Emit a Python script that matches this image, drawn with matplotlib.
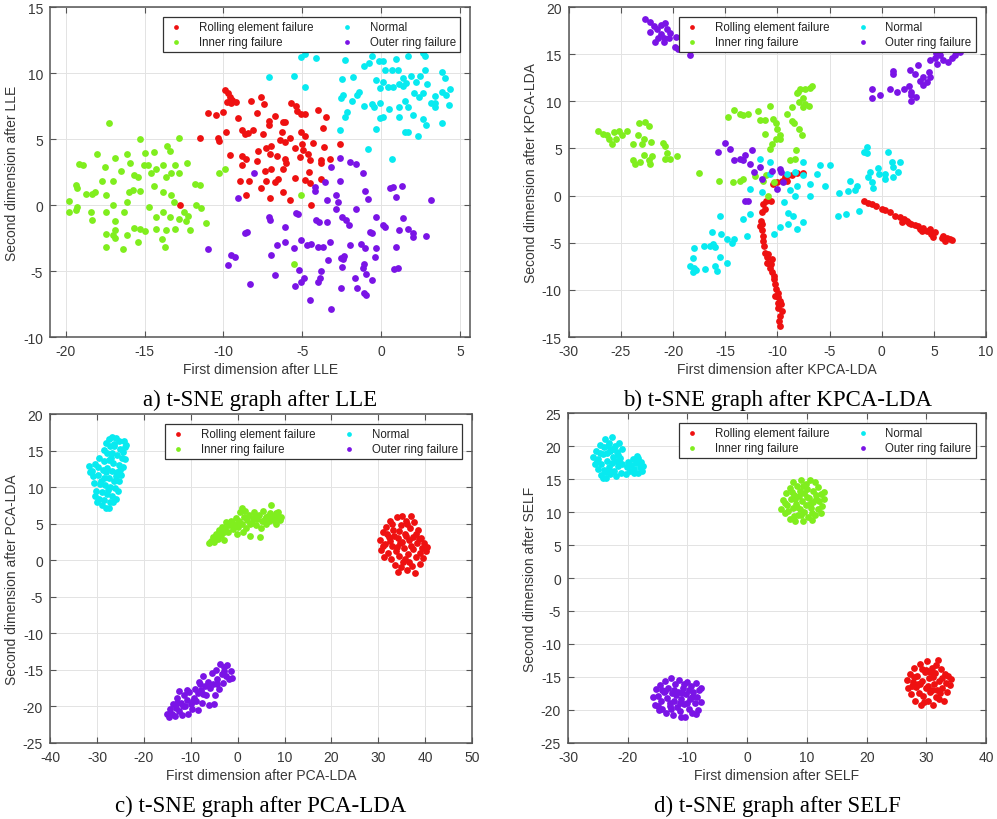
import numpy as np
import matplotlib
matplotlib.use('Agg')
from matplotlib import pyplot as plt

# ---- data ----
class_names = ['Rolling element failure', 'Inner ring failure', 'Normal', 'Outer ring failure']
class_colors = ['#ee1111', '#80ee1e', '#08eaf0', '#7a14e6']

# a) LLE
lle_rolling = [(-9.9, 8.75), (-9.7, 8.5), (-9.6, 8.2), (-9.8, 7.8), (-9.5, 7.75), (-9.2, 7.8), (-8.25, 7.9),
               (-7.6, 8.15), (-7.4, 7.65), (-11.0, 7.0), (-10.5, 6.8), (-10.05, 7.05), (-9.1, 6.6), (-7.9, 7.0),
               (-6.7, 6.75), (-5.7, 7.7), (-5.4, 7.5), (-5.35, 7.15), (-5.05, 6.9), (-4.8, 6.9), (-4.0, 7.2),
               (-3.5, 6.65), (-11.5, 5.1), (-10.35, 5.1), (-10.3, 4.85), (-9.85, 5.5), (-8.85, 5.65), (-8.65, 5.4),
               (-8.45, 5.45), (-8.1, 5.65), (-7.5, 5.4), (-7.1, 6.35), (-7.1, 6.1), (-6.25, 6.3), (-6.1, 6.3),
               (-6.3, 5.5), (-6.1, 4.8), (-5.8, 5.05), (-5.05, 5.55), (-4.85, 5.2), (-4.3, 4.7), (-3.7, 5.8),
               (-9.6, 3.8), (-8.8, 3.7), (-8.55, 3.45), (-7.8, 4.1), (-7.3, 4.3), (-7.05, 3.85), (-6.6, 3.75),
               (-6.95, 4.5), (-5.45, 4.3), (-4.95, 4.2), (-4.65, 3.85), (-4.5, 3.4), (-3.8, 3.4), (-3.6, 4.4),
               (-3.25, 3.5), (-2.6, 4.6), (-3.8, 3.15), (-8.8, 3.0), (-7.9, 3.3), (-7.35, 2.6), (-6.95, 2.75),
               (-6.25, 2.7), (-6.1, 3.45), (-6.0, 3.15), (-5.15, 3.65), (-4.55, 2.5), (-8.95, 1.85), (-8.35, 1.85),
               (-7.3, 1.85), (-6.75, 1.75), (-6.55, 2.0), (-5.45, 2.05), (-4.85, 1.9), (-4.5, 1.7), (-3.8, 2.0),
               (-7.6, 1.3), (-8.55, 0.75), (-7.05, 0.55), (-6.2, 1.0), (-5.8, 0.35), (-4.45, 0.0), (-12.75, 0.0),
               (-9.45, 7.95), (-5.0, 4.6), (-6.4, 4.95)]
lle_inner = [(-17.25, 6.2), (-12.8, 5.1), (-15.3, 5.0), (-18.05, 3.9), (-16.1, 3.9), (-15.0, 3.95), (-14.4, 4.0),
             (-13.6, 4.5), (-13.4, 4.1), (-19.15, 3.1), (-18.9, 3.05), (-17.5, 2.9), (-16.9, 3.6), (-16.5, 2.6),
             (-15.9, 3.2), (-15.05, 3.0), (-14.8, 3.0), (-14.3, 2.75), (-13.85, 3.05), (-13.1, 3.05), (-12.3, 3.2),
             (-12.8, 2.4), (-13.3, 2.45), (-17.7, 1.85), (-17.0, 1.85), (-15.65, 2.25), (-15.45, 2.1), (-13.65, 2.1),
             (-11.8, 1.6), (-11.5, 1.55), (-19.35, 1.5), (-19.3, 1.3), (-18.7, 0.8), (-18.35, 0.85), (-18.15, 0.95),
             (-17.45, 0.75), (-15.75, 1.1), (-15.3, 1.05), (-14.4, 1.45), (-13.85, 1.0), (-13.3, 0.75), (-16.1, 0.2),
             (-13.15, 0.25), (-11.75, 0.0), (-11.4, -0.2), (-19.8, 0.3), (-19.8, -0.55), (-19.3, -0.15),
             (-19.35, -0.35), (-18.4, -0.55), (-18.35, -1.15), (-17.45, -0.55), (-16.3, -0.55), (-14.7, -0.15),
             (-14.3, -0.9), (-13.85, -0.55), (-13.4, -0.9), (-12.5, -0.55), (-12.25, -0.85), (-12.35, -1.2),
             (-12.8, -1.05), (-16.9, -1.2), (-15.65, -1.75), (-15.3, -1.8), (-15.0, -2.0), (-14.25, -1.8),
             (-13.65, -1.9), (-13.05, -1.8), (-12.15, -1.9), (-11.1, -1.4), (-16.85, -1.9), (-17.0, -2.3),
             (-17.45, -2.2), (-16.9, -2.5), (-16.1, -2.3), (-15.45, -2.8), (-13.9, -2.55), (-13.7, -3.2),
             (-17.45, -3.15), (-16.35, -3.35), (-10.25, 2.45), (-9.9, 2.75), (-5.05, 0.75), (-5.5, -4.45),
             (-14.6, 2.4), (-16.0, 1.0), (-17.0, 0.0)]
lle_normal = [(-5.05, 11.25), (-4.85, 11.45), (-4.1, 11.15), (-7.1, 9.7), (-5.55, 9.8), (-4.85, 8.95), (-2.5, 9.55),
              (-2.3, 11.0), (-1.8, 9.7), (-1.05, 10.55), (-0.75, 10.75), (-0.6, 11.3), (-0.1, 10.9), (0.15, 10.9),
              (0.95, 11.1), (1.7, 11.3), (2.65, 11.55), (2.8, 11.3), (0.25, 10.2), (0.7, 10.2), (1.1, 10.2),
              (1.9, 9.75), (2.8, 10.2), (3.85, 10.05), (4.05, 9.6), (2.5, 9.75), (-0.3, 9.45), (0.15, 9.3),
              (1.4, 9.6), (-0.05, 8.9), (0.45, 8.95), (0.75, 8.95), (1.15, 9.15), (1.4, 9.05), (1.6, 9.25),
              (2.25, 9.3), (2.9, 9.15), (4.4, 8.8), (4.15, 8.3), (3.85, 8.55), (3.45, 8.25), (2.65, 8.45),
              (2.1, 8.45), (1.55, 7.9), (2.4, 8.15), (-2.4, 8.35), (-1.5, 8.3), (-1.4, 8.55), (-1.85, 7.9),
              (-1.05, 7.5), (-0.6, 7.65), (-0.45, 7.4), (-0.05, 7.7), (1.15, 7.4), (1.7, 7.4), (3.2, 7.7),
              (3.45, 7.75), (4.3, 7.55), (-2.15, 7.05), (-2.3, 6.65), (-0.05, 6.6), (0.1, 6.65), (1.15, 6.65),
              (2.0, 6.8), (2.65, 6.5), (2.85, 6.1), (3.85, 6.25), (-0.3, 5.75), (-2.6, 5.65), (1.5, 5.5),
              (1.7, 5.5), (2.35, 5.2), (-0.8, 4.25), (0.7, 3.45), (-2.55, 8.1), (0.5, 7.3), (3.4, 7.45)]
lle_outer = [(-8.05, 2.45), (-9.05, 0.55), (-4.2, 1.35), (-4.2, 1.05), (-3.55, 1.75), (-3.2, 2.9), (-2.6, 3.55),
             (-2.0, 3.25), (-1.6, 3.1), (-1.15, 2.45), (-2.6, 1.85), (-2.85, 0.75), (-2.75, 0.25), (-3.4, 0.35),
             (-2.85, -0.3), (-1.0, 1.05), (-0.85, 0.45), (0.55, 1.3), (0.75, 1.35), (1.3, 1.45), (0.95, 0.6),
             (3.2, 0.35), (-1.6, -0.3), (-2.45, -0.9), (-2.25, -1.15), (-2.05, -1.5), (-0.3, -0.9), (0.15, -1.55),
             (0.25, -1.65), (1.4, -1.0), (1.7, -1.8), (1.15, -1.9), (2.05, -2.15), (2.05, -2.45), (2.85, -2.35),
             (-0.7, -2.05), (-0.6, -2.15), (-7.1, -0.9), (-7.05, -1.15), (-6.1, -1.65), (-5.3, -0.7),
             (-4.15, -1.15), (-3.95, -1.25), (-3.45, -1.3), (-11.0, -3.3), (-8.5, -2.05), (-8.65, -2.15),
             (-9.5, -3.75), (-9.25, -3.95), (-9.7, -4.55), (-8.3, -5.95), (-7.0, -3.8), (-6.6, -3.05),
             (-6.1, -2.8), (-5.5, -3.25), (-5.05, -2.65), (-4.7, -3.05), (-4.45, -2.95), (-4.0, -3.2),
             (-3.7, -3.2), (-3.25, -2.8), (-2.0, -3.05), (-1.3, -2.95), (-1.0, -3.25), (-0.3, -3.25), (0.95, -3.2),
             (-6.75, -5.3), (-5.45, -6.15), (-5.2, -4.9), (-5.05, -5.8), (-4.9, -5.55), (-4.5, -7.2), (-4.0, -5.8),
             (-3.85, -5.55), (-3.8, -5.0), (-3.35, -4.2), (-3.2, -7.85), (-2.55, -4.0), (-2.35, -3.9),
             (-2.45, -4.7), (-2.55, -6.3), (-1.65, -5.55), (-1.55, -6.3), (-1.15, -4.8), (-1.05, -4.45),
             (-0.95, -5.2), (-1.05, -6.65), (-0.95, -6.85), (-0.6, -5.65), (-0.4, -3.95), (0.85, -4.85),
             (1.05, -4.75), (-5.4, -0.6), (-2.4, -4.1)]

# b) KPCA-LDA
kpca_rolling = [(-1.7, -0.6), (-1.3, -0.8), (-0.9, -0.9), (-0.5, -1.15), (0.0, -1.4), (0.3, -1.5), (0.8, -1.75),
                (1.3, -2.15), (1.75, -2.3), (2.1, -2.5), (1.9, -2.75), (2.4, -2.65), (2.85, -3.0), (3.2, -3.1),
                (3.5, -3.2), (3.65, -3.55), (4.0, -3.4), (4.3, -3.75), (4.6, -3.5), (4.75, -4.1), (5.1, -3.9),
                (4.95, -4.35), (5.9, -4.25), (6.25, -4.45), (6.55, -4.6), (6.1, -4.8), (6.7, -4.7), (5.75, -4.55),
                (3.9, -3.8), (2.6, -2.9), (-11.35, -0.9), (-11.2, -1.4), (-11.5, -1.75), (-11.6, -2.65),
                (-11.65, -3.2), (-11.5, -3.7), (-11.4, -4.25), (-11.35, -4.8), (-11.2, -6.05), (-11.0, -6.55),
                (-10.85, -7.1), (-10.7, -7.65), (-10.5, -8.15), (-10.35, -8.9), (-10.2, -9.4), (-10.1, -9.95),
                (-9.95, -10.3), (-9.9, -10.8), (-9.75, -11.2), (-9.65, -11.55), (-9.9, -11.9), (-9.6, -12.25),
                (-9.75, -12.8), (-9.8, -13.3), (-9.75, -13.85), (-9.95, -11.35), (-10.2, -10.65), (-10.85, -6.2),
                (-10.95, -7.1), (-10.5, -6.75), (-11.1, -0.6), (-10.65, -0.55), (-11.3, -5.3), (-10.6, -7.3),
                (-10.3, -8.5), (-11.5, -3.0), (-10.4, 1.25), (-10.05, 1.4), (-9.55, 1.6), (-9.25, 1.95),
                (-8.95, 2.15), (-8.6, 2.2), (-8.15, 2.4), (-7.55, 2.4), (-9.1, 1.6)]
kpca_inner = [(-27.2, 6.9), (-26.7, 6.55), (-26.3, 6.4), (-26.1, 6.05), (-25.85, 5.5), (-25.5, 6.05), (-25.2, 6.9),
              (-24.9, 6.4), (-24.4, 6.85), (-25.7, 6.75), (-23.85, 5.5), (-23.4, 6.4), (-23.0, 5.5), (-22.8, 6.05),
              (-23.25, 7.65), (-22.65, 7.8), (-22.35, 7.4), (-23.85, 3.75), (-23.6, 3.4), (-23.2, 3.55),
              (-22.8, 4.35), (-22.35, 3.75), (-22.0, 4.25), (-22.1, 5.7), (-21.0, 5.6), (-20.75, 5.3),
              (-20.6, 4.55), (-20.75, 3.9), (-20.25, 3.9), (-19.6, 4.2), (-22.2, 3.4), (-17.55, 2.4),
              (-15.55, 1.5), (-14.25, 1.4), (-13.55, 1.6), (-13.25, 1.8), (-14.7, 8.35), (-14.2, 9.05),
              (-13.55, 8.7), (-13.25, 8.5), (-12.85, 8.7), (-11.9, 8.95), (-11.65, 8.0), (-11.2, 8.0), (-10.7, 9.5),
              (-10.4, 8.1), (-10.1, 7.65), (-10.0, 7.1), (-9.7, 6.4), (-10.1, 6.05), (-11.2, 6.55), (-10.55, 5.5),
              (-10.7, 4.95), (-11.1, 2.15), (-11.35, 1.5), (-10.9, 0.0), (-9.75, 6.05), (-8.6, 9.4), (-9.1, 8.7),
              (-8.6, 7.9), (-8.45, 7.65), (-8.3, 3.9), (-8.75, 3.75), (-8.2, 4.8), (-7.9, 7.1), (-7.6, 6.4),
              (-7.55, 10.3), (-7.95, 9.95), (-7.35, 9.75), (-7.5, 9.4), (-7.0, 9.5), (-8.15, 10.9), (-7.8, 11.35),
              (-7.35, 11.35), (-6.85, 11.45), (-6.7, 11.65), (-8.0, 11.0), (-12.1, 2.1), (-10.3, 1.4)]
kpca_normal = [(-1.45, 4.55), (-1.4, 5.15), (-1.7, 4.6), (0.65, 4.6), (0.95, 3.55), (1.1, 3.0), (1.75, 3.55),
               (1.6, 2.5), (1.1, 1.95), (0.3, 1.8), (0.3, 2.3), (-0.3, 2.3), (-1.1, 2.5), (-1.3, 1.95), (-0.9, 1.4),
               (-0.8, 0.8), (-2.55, 0.55), (-3.2, 0.45), (-4.05, 0.3), (-3.05, 1.6), (-4.95, 3.2), (-5.9, 3.2),
               (-6.2, 2.3), (-6.85, 1.25), (-6.85, 0.0), (-5.4, 1.0), (-7.5, 2.15), (-7.5, 3.55), (-8.3, 2.5),
               (-9.1, 2.3), (-8.15, 1.05), (-8.75, 0.55), (-8.3, 0.0), (-9.4, -0.7), (-8.95, -1.8), (-8.5, -2.15),
               (-8.15, -3.55), (-7.5, -2.85), (-8.95, -3.0), (-9.75, -3.35), (-10.35, -4.1), (-10.7, 3.55),
               (-11.65, 3.85), (-11.5, 0.35), (-12.6, 0.7), (-12.6, -1.95), (-13.25, -2.5), (-12.95, -4.25),
               (-14.15, -4.6), (-14.35, -5.0), (-14.85, -4.6), (-15.5, -2.15), (-15.4, -4.1), (-16.3, -3.9),
               (-16.2, -5.15), (-16.45, -5.3), (-15.95, -5.5), (-15.5, -6.55), (-14.85, -7.1), (-15.95, -7.45),
               (-15.8, -8.0), (-16.9, -7.8), (-17.05, -5.3), (-18.0, -5.6), (-18.1, -6.65), (-18.35, -7.45),
               (-18.0, -7.65), (-18.1, -8.15), (-17.8, -7.9), (-4.2, -2.2), (-3.4, -1.9), (-2.2, -1.6),
               (-2.35, 1.0), (-0.4, 2.9), (-10.7, 2.3)]
kpca_outer = [(-22.7, 18.75), (-22.2, 18.45), (-21.85, 18.0), (-22.25, 17.4), (-21.55, 17.7), (-21.15, 18.1),
              (-20.75, 18.3), (-20.6, 17.7), (-21.2, 17.1), (-21.45, 16.7), (-20.9, 16.75), (-20.4, 16.7),
              (-20.25, 17.2), (-19.7, 16.85), (-19.8, 15.8), (-19.5, 15.55), (-18.4, 14.9), (-20.9, 16.3),
              (-21.7, 16.3), (-0.95, 11.35), (-0.95, 10.35), (-0.15, 10.65), (0.75, 11.35), (1.05, 13.2),
              (1.05, 12.85), (1.45, 11.0), (2.15, 11.35), (2.65, 11.65), (2.8, 11.0), (2.85, 10.65), (2.85, 10.0),
              (3.3, 10.45), (2.75, 13.3), (3.2, 12.85), (3.45, 13.9), (3.7, 12.15), (4.0, 12.6), (4.5, 13.15),
              (4.65, 12.6), (4.35, 12.05), (4.6, 14.4), (5.15, 14.55), (5.6, 14.9), (5.3, 14.0), (5.9, 14.4),
              (6.4, 14.2), (6.7, 14.6), (7.0, 14.9), (7.5, 15.2), (5.25, 15.1), (4.0, 11.7), (-15.65, 4.65),
              (-15.0, 5.6), (-14.5, 4.95), (-14.15, 3.8), (-13.6, 3.9), (-13.3, 3.8), (-13.1, 4.35), (-12.45, 4.8),
              (-12.6, 3.35), (-12.2, 2.5), (-11.65, 3.0), (-10.55, 2.65), (-9.75, 2.85), (-9.65, 2.55),
              (-10.0, 0.65), (-13.1, -0.55), (-12.8, -0.55), (-11.5, 1.8), (-9.5, 1.45)]

# c) PCA-LDA
pca_rolling = [(30.4, 2.8), (30.6, 1.4), (30.9, 3.9), (31.2, 0.5), (31.4, 2.2), (31.7, 4.6), (32.0, 1.0),
               (32.2, 3.2), (32.5, 5.4), (32.7, 0.1), (33.0, 2.0), (33.2, 4.1), (33.5, -0.6), (33.7, 1.3),
               (33.9, 5.9), (34.1, 3.0), (34.3, -1.6), (34.5, 0.6), (34.7, 2.4), (34.9, 4.8), (35.1, 6.0),
               (35.3, -0.3), (35.5, 1.7), (35.7, 3.6), (35.9, 5.3), (36.1, -1.3), (36.3, 0.9), (36.5, 2.8),
               (36.7, 4.4), (36.9, 6.0), (37.1, -0.8), (37.3, 1.5), (37.5, 3.2), (37.7, 5.2), (37.9, -1.7),
               (38.1, 0.4), (38.3, 2.3), (38.5, 4.1), (38.8, 1.0), (39.0, -0.5), (39.2, 3.0), (39.4, 1.7),
               (39.6, 0.3), (39.8, 2.4), (40.2, 1.2), (40.4, 1.8), (35.0, 2.5), (36.0, 3.3), (34.0, 1.8),
               (37.0, 2.0), (35.6, 0.2), (33.3, 3.3), (31.0, 2.0), (32.4, 2.6), (36.2, 4.9), (38.6, 2.9),
               (32.9, 4.9), (34.4, 4.0), (36.6, -0.2), (38.0, 3.6), (34.8, -0.9), (31.8, 3.6)]
pca_inner = [(-6.0, 2.3), (-5.6, 2.6), (-5.2, 3.2), (-5.0, 2.5), (-4.6, 3.6), (-4.2, 2.9), (-4.0, 4.2), (-3.6, 3.4),
             (-3.3, 4.6), (-3.0, 3.8), (-2.6, 4.4), (-2.4, 5.2), (-2.0, 3.9), (-1.8, 4.8), (-1.4, 5.4), (-1.0, 4.3),
             (-0.8, 5.0), (-0.4, 5.8), (0.0, 4.6), (0.3, 5.4), (0.6, 6.6), (0.9, 7.2), (1.0, 4.9), (1.3, 5.9),
             (1.6, 6.8), (1.8, 4.4), (2.1, 5.5), (2.4, 6.2), (2.7, 3.3), (3.0, 5.1), (3.3, 5.8), (3.6, 6.6),
             (3.9, 4.8), (4.2, 5.6), (4.5, 6.2), (4.8, 3.2), (4.9, 4.4), (5.2, 5.3), (5.5, 6.7), (5.8, 5.7),
             (6.1, 4.9), (6.4, 6.0), (6.7, 5.3), (7.0, 6.5), (7.2, 7.5), (7.5, 5.5), (7.8, 6.1), (8.1, 4.9),
             (8.4, 5.8), (8.7, 6.6), (9.0, 5.5), (9.3, 5.9), (-2.9, 2.8), (-0.2, 3.6), (1.2, 3.8), (6.0, 5.9),
             (-1.2, 4.9), (0.5, 5.1), (2.6, 5.0), (4.0, 6.0), (6.8, 6.0), (8.2, 6.4)]
pca_normal = [(-27.5, 16.6), (-26.8, 16.8), (-26.0, 16.7), (-25.4, 16.3), (-24.3, 16.3), (-24.0, 15.5),
              (-28.0, 16.0), (-27.2, 15.6), (-26.3, 15.6), (-25.0, 15.2), (-24.4, 14.8), (-28.6, 15.1),
              (-27.8, 14.6), (-26.7, 14.7), (-25.8, 14.4), (-24.7, 14.0), (-29.5, 14.0), (-28.6, 13.6),
              (-27.5, 13.7), (-26.5, 13.3), (-25.3, 13.0), (-24.5, 12.8), (-30.5, 13.2), (-29.8, 12.7),
              (-28.8, 12.4), (-27.8, 12.6), (-26.8, 12.2), (-25.8, 12.0), (-24.8, 11.6), (-31.7, 12.9),
              (-31.5, 12.0), (-30.8, 11.5), (-29.8, 11.6), (-28.6, 11.3), (-27.5, 11.2), (-26.4, 10.9),
              (-25.4, 10.8), (-30.6, 10.6), (-29.4, 10.4), (-28.2, 10.3), (-27.3, 10.0), (-26.2, 9.9),
              (-25.6, 9.5), (-30.2, 9.5), (-29.0, 9.3), (-27.9, 9.1), (-26.7, 8.8), (-25.9, 8.4), (-30.5, 8.8),
              (-29.5, 8.4), (-28.5, 8.2), (-27.3, 8.0), (-29.0, 7.5), (-28.1, 7.1), (-27.5, 7.1), (-30.0, 7.9),
              (-26.6, 8.0), (-24.0, 13.8), (-23.8, 15.8), (-31.0, 12.2), (-27.0, 14.0), (-26.0, 11.5),
              (-28.0, 12.0), (-29.2, 10.9), (-27.7, 9.6), (-25.1, 12.3), (-26.4, 15.9)]
pca_outer = [(-15.0, -21.0), (-14.6, -21.5), (-14.4, -20.3), (-14.0, -21.0), (-13.7, -19.6), (-13.4, -21.3),
             (-13.2, -20.2), (-12.9, -18.9), (-12.6, -17.9), (-12.4, -20.6), (-12.1, -19.5), (-11.8, -21.2),
             (-11.5, -18.5), (-11.2, -20.0), (-10.9, -19.1), (-10.6, -21.0), (-10.3, -18.0), (-10.0, -19.7),
             (-9.7, -20.3), (-9.4, -18.8), (-9.1, -17.6), (-8.8, -19.3), (-8.5, -18.2), (-8.2, -16.6),
             (-7.9, -17.8), (-7.6, -19.5), (-7.3, -15.9), (-7.0, -17.2), (-6.7, -18.4), (-6.4, -16.6),
             (-6.1, -19.8), (-5.8, -17.5), (-5.5, -15.4), (-5.2, -16.9), (-4.9, -18.5), (-4.6, -15.0),
             (-4.3, -16.3), (-4.0, -17.6), (-3.7, -14.2), (-3.4, -15.6), (-3.1, -16.8), (-2.8, -14.6),
             (-2.5, -15.9), (-2.2, -14.3), (-1.9, -16.3), (-1.5, -15.2), (-1.2, -16.1), (-5.0, -19.7),
             (-8.5, -20.5), (-10.8, -17.7), (-13.0, -19.5), (-6.0, -17.0), (-11.7, -19.9), (-9.6, -19.2),
             (-7.4, -18.3), (-4.4, -17.0), (-3.0, -15.2), (-8.0, -16.9)]

# d) SELF
self_rolling = [(26.8, -15.5), (27.0, -16.7), (27.3, -14.6), (27.5, -17.6), (27.7, -15.8), (27.9, -13.7),
                (28.1, -18.6), (28.3, -16.5), (28.5, -14.8), (28.7, -17.4), (28.9, -13.0), (29.1, -19.2),
                (29.3, -15.6), (29.5, -17.9), (29.7, -14.2), (29.9, -16.6), (30.1, -12.6), (30.3, -18.6),
                (30.5, -15.2), (30.7, -17.2), (30.9, -13.6), (31.1, -19.3), (31.3, -16.1), (31.5, -14.4),
                (31.7, -18.1), (31.9, -12.4), (32.1, -15.6), (32.3, -17.4), (32.5, -13.8), (32.7, -16.7),
                (32.9, -18.6), (33.1, -14.6), (33.3, -15.9), (33.5, -17.2), (33.7, -14.9), (33.9, -16.2),
                (34.2, -15.3), (29.0, -16.0), (30.2, -16.3), (31.2, -15.0), (30.0, -14.0), (31.8, -17.0),
                (28.6, -16.0), (32.6, -15.2), (28.0, -15.0), (29.6, -18.8), (30.6, -14.2), (31.6, -13.2),
                (32.2, -18.4), (29.2, -13.8), (30.9, -16.9), (27.6, -16.3)]
self_inner = [(5.7, 10.5), (6.0, 11.8), (6.3, 9.8), (6.5, 12.9), (6.7, 11.0), (6.9, 10.2), (7.1, 13.6), (7.2, 9.0),
              (7.4, 11.9), (7.6, 14.5), (7.7, 10.6), (7.9, 12.6), (8.0, 8.6), (8.2, 11.2), (8.3, 14.0), (8.5, 9.6),
              (8.6, 12.4), (8.8, 13.2), (8.9, 10.4), (9.1, 14.8), (9.2, 11.6), (9.3, 8.7), (9.5, 12.9), (9.6, 10.0),
              (9.8, 14.2), (9.9, 11.0), (10.1, 13.5), (10.2, 9.3), (10.4, 12.1), (10.5, 14.9), (10.7, 10.6),
              (10.8, 8.8), (11.0, 13.2), (11.1, 11.5), (11.3, 14.5), (11.4, 9.6), (11.6, 12.6), (11.8, 10.5),
              (11.9, 13.8), (12.1, 11.7), (12.3, 9.8), (12.4, 12.8), (12.6, 10.9), (12.8, 11.9), (12.9, 13.1),
              (8.4, 10.8), (10.0, 12.2), (9.0, 9.5), (10.6, 11.2), (7.5, 13.0), (6.4, 11.4), (8.0, 12.0),
              (9.4, 13.9), (11.5, 12.0), (10.9, 9.9), (7.8, 9.4)]
self_normal = [(-25.8, 18.3), (-25.5, 17.2), (-25.3, 19.2), (-25.0, 16.5), (-24.9, 18.0), (-24.7, 20.1),
               (-24.5, 15.6), (-24.4, 17.3), (-24.2, 18.8), (-24.0, 16.4), (-23.9, 19.9), (-23.8, 21.0),
               (-23.6, 15.1), (-23.5, 17.8), (-23.4, 18.9), (-23.2, 16.8), (-23.1, 20.5), (-23.0, 15.8),
               (-22.9, 19.3), (-22.7, 17.4), (-22.6, 21.4), (-22.5, 18.3), (-22.3, 16.2), (-22.1, 20.0),
               (-22.0, 17.8), (-21.9, 15.4), (-21.8, 19.1), (-21.6, 16.9), (-21.4, 20.4), (-21.3, 18.2),
               (-21.1, 15.9), (-21.0, 19.5), (-20.9, 17.2), (-24.6, 19.0), (-23.7, 16.0), (-22.4, 19.6),
               (-21.7, 18.7), (-25.2, 17.8), (-23.3, 20.0), (-24.1, 15.2), (-22.8, 16.0), (-21.5, 17.6),
               (-20.2, 16.8), (-19.9, 17.6), (-19.6, 16.2), (-19.4, 17.1), (-19.1, 18.0), (-18.9, 16.5),
               (-18.6, 17.4), (-18.3, 15.9), (-18.2, 18.2), (-18.0, 16.8), (-17.8, 17.6), (-17.6, 16.2),
               (-17.4, 17.0), (-19.0, 15.9), (-20.3, 15.8), (-18.5, 18.5)]
self_outer = [(-15.7, -18.0), (-15.4, -19.2), (-15.2, -16.8), (-15.0, -17.9), (-14.8, -20.0), (-14.6, -16.2),
              (-14.4, -18.6), (-14.2, -19.8), (-14.0, -17.3), (-13.8, -15.6), (-13.6, -20.5), (-13.4, -18.2),
              (-13.2, -16.6), (-13.0, -19.4), (-12.8, -15.2), (-12.6, -17.5), (-12.4, -20.8), (-12.2, -18.7),
              (-12.0, -16.1), (-11.8, -19.6), (-11.6, -17.2), (-11.4, -15.5), (-11.2, -20.2), (-11.0, -18.3),
              (-10.8, -16.6), (-10.6, -19.1), (-10.4, -21.1), (-10.2, -17.6), (-10.0, -15.7), (-9.8, -19.8),
              (-9.6, -18.4), (-9.4, -16.4), (-9.2, -20.4), (-9.0, -17.2), (-8.8, -19.0), (-8.6, -15.9),
              (-8.4, -18.1), (-8.2, -20.0), (-8.0, -17.0), (-7.8, -18.8), (-7.7, -16.6), (-12.9, -18.9),
              (-11.3, -19.0), (-10.1, -18.9), (-13.7, -17.1), (-9.7, -17.0), (-12.3, -16.9), (-11.0, -21.0),
              (-14.9, -19.4), (-8.6, -20.6), (-14.3, -17.0), (-12.7, -19.9), (-10.9, -17.4), (-9.3, -18.0),
              (-11.9, -17.8), (-10.5, -16.0)]

panels = [
    dict(data=[lle_rolling, lle_inner, lle_normal, lle_outer], xlim=(-21.0, 5.65), ylim=(-10, 15),
         xticks=range(-20, 6, 5), yticks=range(-10, 16, 5),
         xlabel='First dimension after LLE', ylabel='Second dimension after LLE',
         caption='a) t-SNE graph after LLE', rect=[0.0502, 0.5878, 0.4213, 0.4024]),
    dict(data=[kpca_rolling, kpca_inner, kpca_normal, kpca_outer], xlim=(-30, 10), ylim=(-15, 20),
         xticks=range(-30, 11, 5), yticks=range(-15, 21, 5),
         xlabel='First dimension after KPCA-LDA', ylabel='Second dimension after KPCA-LDA',
         caption='b) t-SNE graph after KPCA-LDA', rect=[0.5704, 0.5878, 0.4186, 0.4024]),
    dict(data=[pca_rolling, pca_inner, pca_normal, pca_outer], xlim=(-40, 50), ylim=(-25, 20),
         xticks=range(-40, 51, 10), yticks=range(-25, 21, 5),
         xlabel='First dimension after PCA-LDA', ylabel='Second dimension after PCA-LDA',
         caption='c) t-SNE graph after PCA-LDA', rect=[0.0502, 0.0927, 0.4233, 0.4012]),
    dict(data=[self_rolling, self_inner, self_normal, self_outer], xlim=(-30, 40), ylim=(-25, 25),
         xticks=range(-30, 41, 10), yticks=range(-25, 26, 5),
         xlabel='First dimension after SELF', ylabel='Second dimension after SELF',
         caption='d) t-SNE graph after SELF', rect=[0.5697, 0.0927, 0.4193, 0.4024]),
]

plt.rcParams['font.family'] = ['Liberation Sans', 'DejaVu Sans']
plt.rcParams['axes.unicode_minus'] = False
fig = plt.figure(figsize=(9.97, 8.2), dpi=100)
text_gray = '#383838'

for p in panels:
    ax = fig.add_axes(p['rect'])
    for pts, name, col in zip(p['data'], class_names, class_colors):
        arr = np.array(pts)
        ax.scatter(arr[:, 0], arr[:, 1], s=24, color=col, linewidths=0, label=name)
    ax.set_xlim(p['xlim'])
    ax.set_ylim(p['ylim'])
    ax.set_xticks(list(p['xticks']))
    ax.set_yticks(list(p['yticks']))
    ax.grid(True, color='#e3e3e3', linewidth=0.7)
    ax.set_axisbelow(True)
    ax.tick_params(direction='in', length=4, top=True, right=True, colors='#555555',
                   labelcolor=text_gray, labelsize=10, pad=5)
    for sp in ax.spines.values():
        sp.set_color('#555555')
        sp.set_linewidth(1.1)
    ax.set_xlabel(p['xlabel'], fontsize=10, color=text_gray, labelpad=3)
    ax.set_ylabel(p['ylabel'], fontsize=10, color=text_gray, labelpad=3)
    leg = ax.legend(ncol=2, loc='upper right', fontsize=8.3, frameon=True, fancybox=False,
                    edgecolor='#333333', framealpha=1, borderaxespad=0.9, handletextpad=1.2,
                    columnspacing=2.2, labelspacing=0.25, handlelength=1.5, borderpad=0.35,
                    markerscale=0.7)
    leg.get_frame().set_linewidth(0.9)
    for t in leg.get_texts():
        t.set_color('#222222')
    ax.text(0.5, -0.19, p['caption'], transform=ax.transAxes, ha='center', va='center',
            fontsize=16.5, family='Liberation Serif', color='black')

fig.savefig('out.png', dpi=100)
